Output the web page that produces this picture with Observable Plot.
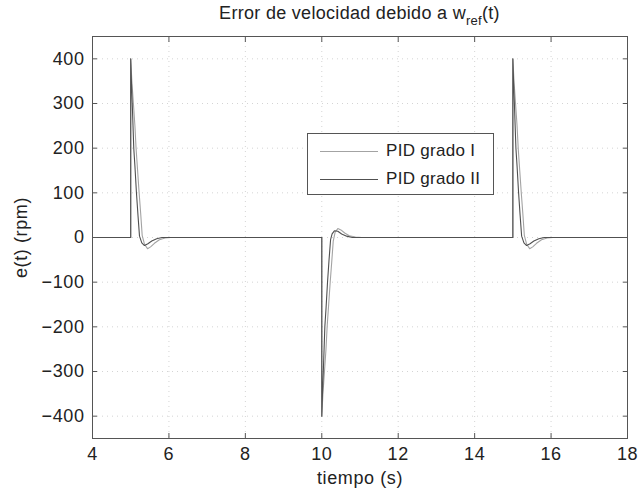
<!DOCTYPE html>
<html><head><meta charset="utf-8">
<script src="https://cdn.jsdelivr.net/npm/d3@7"></script>
<script src="https://cdn.jsdelivr.net/npm/@observablehq/plot@0.6"></script>
<style>
body{margin:0;background:#fff;font-family:"Liberation Sans",Arial,sans-serif;}
#wrap{position:relative;width:639px;height:493px;}
#title{position:absolute;left:92px;width:535px;top:3px;text-align:center;font-size:18px;letter-spacing:0.3px;color:#222;white-space:nowrap;}
#title sub{font-size:13px;vertical-align:-6px;line-height:0;}
#legend{position:absolute;left:307px;top:133px;width:185px;height:60px;border:1px solid #555;background:#fff;font-size:17px;letter-spacing:0.3px;color:#222;}
.row{position:absolute;left:12px;height:20px;display:flex;align-items:center;}
.row span.ln{display:inline-block;width:58px;height:0;border-top:1px solid;margin-right:8px;}
svg text{letter-spacing:0.6px;}
</style></head>
<body>
<div id="wrap">
<div id="chart"></div>
<div id="title">Error de velocidad debido a w<sub>ref</sub>(t)</div>
<div id="legend"></div>
</div>
<script>
// categories / series
const seriesNames = ["PID grado I", "PID grado II"];
const seriesColors = ["#a3a3a3", "#505050"];

// PID grado I (slower response)
const tI = [4, 5, 5, 5.03, 5.07, 5.11, 5.14, 5.18, 5.22, 5.26, 5.30, 5.36, 5.44, 5.52, 5.62, 5.75, 5.90, 6.05,
            10, 10, 10.03, 10.07, 10.11, 10.14, 10.18, 10.22, 10.26, 10.30, 10.35, 10.42, 10.50, 10.60, 10.72, 10.88, 11.05,
            15, 15, 15.03, 15.07, 15.11, 15.14, 15.18, 15.22, 15.26, 15.30, 15.36, 15.44, 15.52, 15.62, 15.75, 15.90, 16.05, 18];
const eI = [0, 0, 400, 350, 300, 250, 200, 150, 100, 55, 5, -15, -25, -21, -13, -5, -1, 0,
            0, -400, -350, -300, -250, -200, -150, -100, -55, -8, 12, 20, 17, 10, 4, 1, 0,
            0, 400, 350, 300, 250, 200, 150, 100, 55, 5, -15, -25, -21, -13, -5, -1, 0, 0];

// PID grado II (faster response)
const tII = [4, 5, 5, 5.02, 5.04, 5.06, 5.08, 5.11, 5.15, 5.19, 5.23, 5.29, 5.36, 5.45, 5.55, 5.68, 5.82,
             10, 10, 10.02, 10.04, 10.06, 10.08, 10.11, 10.15, 10.19, 10.23, 10.27, 10.33, 10.42, 10.52, 10.65, 10.80,
             15, 15, 15.02, 15.04, 15.06, 15.08, 15.11, 15.15, 15.19, 15.23, 15.29, 15.36, 15.45, 15.55, 15.68, 15.82, 18];
const eII = [0, 0, 400, 345, 300, 250, 200, 160, 100, 50, 3, -12, -18, -14, -8, -3, 0,
             0, -400, -345, -300, -250, -200, -160, -100, -50, -5, 8, 15, 14, 8, 3, 0,
             0, 400, 345, 300, 250, 200, 160, 100, 50, 3, -12, -18, -14, -8, -3, 0, 0];

// tick labels
const xTicks = [4, 6, 8, 10, 12, 14, 16, 18];
const yTicks = [-400, -300, -200, -100, 0, 100, 200, 300, 400];

const rowsI = tI.map((t, i) => ({t, e: eI[i]}));
const rowsII = tII.map((t, i) => ({t, e: eII[i]}));

const tickStroke = "#555";
const chart = Plot.plot({
  width: 639, height: 493,
  marginLeft: 92, marginRight: 12, marginTop: 36, marginBottom: 55,
  style: {fontFamily: "'Liberation Sans', Arial, sans-serif", fontSize: "18px", color: "#222", background: "#fff"},
  x: {domain: [4, 18]},
  y: {domain: [-450, 450]},
  marks: [
    Plot.gridX(xTicks, {stroke: "#d4d4d4", strokeOpacity: 1, strokeDasharray: "1,4"}),
    Plot.gridY(yTicks, {stroke: "#d4d4d4", strokeOpacity: 1, strokeDasharray: "1,4"}),
    Plot.line(rowsI, {x: "t", y: "e", stroke: seriesColors[0], strokeWidth: 1.1}),
    Plot.line(rowsII, {x: "t", y: "e", stroke: seriesColors[1], strokeWidth: 1.1}),
    Plot.frame({stroke: "#555"}),
    Plot.axisX(xTicks, {anchor: "bottom", tickSize: 0, tickPadding: 9, label: "tiempo (s)", labelAnchor: "center", labelOffset: 45, labelArrow: "none"}),
    Plot.axisX(xTicks, {anchor: "bottom", tickSize: 5, dy: -5, fill: "none", stroke: tickStroke, label: null}),
    Plot.axisX(xTicks, {anchor: "top", tickSize: 5, dy: 5, fill: "none", stroke: tickStroke, label: null}),
    Plot.axisY(yTicks, {anchor: "left", tickSize: 0, tickPadding: 8, label: "e(t) (rpm)", labelAnchor: "center", labelOffset: 78, labelArrow: "none"}),
    Plot.axisY(yTicks, {anchor: "left", tickSize: 5, dx: 5, fill: "none", stroke: tickStroke, label: null}),
    Plot.axisY(yTicks, {anchor: "right", tickSize: 5, dx: -5, fill: "none", stroke: tickStroke, label: null})
  ]
});
document.getElementById("chart").appendChild(chart);

const legend = document.getElementById("legend");
seriesNames.forEach((name, i) => {
  const row = document.createElement("div");
  row.className = "row";
  row.style.top = (7 + i * 28) + "px";
  row.innerHTML = `<span class="ln" style="border-color:${seriesColors[i]}"></span><span>${name}</span>`;
  legend.appendChild(row);
});
</script>
</body></html>
